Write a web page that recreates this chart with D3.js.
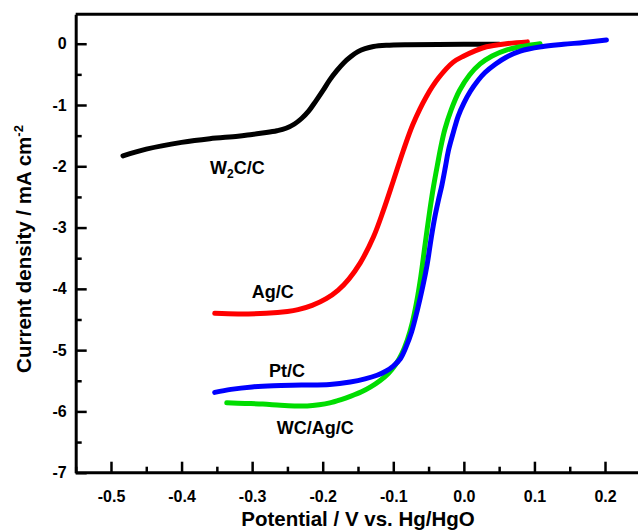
<!DOCTYPE html>
<html>
<head>
<meta charset="utf-8">
<script src="https://cdn.jsdelivr.net/npm/d3@7/dist/d3.min.js"></script>
<style>
  html, body { margin: 0; padding: 0; background: #fff; }
  svg { display: block; }
  text { font-family: "Liberation Sans", Arial, Helvetica, sans-serif; font-weight: bold; }
</style>
</head>
<body>
<script>
// ---- data (potential V vs. Hg/HgO, current density mA cm^-2) ----
const w2cPotential = [-0.483,-0.45,-0.40,-0.36,-0.32,-0.30,-0.28,-0.265,-0.252,-0.24,-0.23,-0.22,-0.21,-0.2,-0.19,-0.18,-0.17,-0.16,-0.15,-0.14,-0.128,-0.11,-0.08,0.0,0.05];
const w2cCurrent   = [-1.83,-1.72,-1.61,-1.55,-1.51,-1.48,-1.45,-1.42,-1.38,-1.31,-1.22,-1.10,-0.94,-0.77,-0.59,-0.44,-0.31,-0.21,-0.13,-0.08,-0.045,-0.025,-0.015,-0.01,-0.01];

const agPotential = [-0.353,-0.32,-0.28,-0.25,-0.235,-0.215,-0.195,-0.178,-0.163,-0.147,-0.128,-0.114,-0.10,-0.086,-0.072,-0.053,-0.036,-0.015,0.0,0.015,0.032,0.06,0.09];
const agCurrent   = [-4.40,-4.41,-4.40,-4.37,-4.34,-4.27,-4.16,-4.02,-3.84,-3.58,-3.15,-2.72,-2.24,-1.75,-1.31,-0.86,-0.56,-0.30,-0.20,-0.12,-0.05,0.0,0.03];

const wcagPotential = [-0.336,-0.31,-0.285,-0.26,-0.24,-0.222,-0.205,-0.19,-0.175,-0.16,-0.145,-0.132,-0.119,-0.107,-0.097,-0.088,-0.08,-0.073,-0.067,-0.061,-0.055,-0.048,-0.043,-0.037,-0.032,-0.027,-0.018,-0.006,0.008,0.023,0.04,0.061,0.085,0.108];
const wcagCurrent   = [-5.86,-5.87,-5.88,-5.90,-5.91,-5.91,-5.89,-5.86,-5.81,-5.75,-5.68,-5.60,-5.50,-5.38,-5.24,-5.06,-4.83,-4.55,-4.22,-3.80,-3.28,-2.70,-2.33,-1.95,-1.65,-1.40,-1.08,-0.76,-0.51,-0.33,-0.20,-0.10,-0.04,0.0];

const ptPotential = [-0.353,-0.33,-0.30,-0.27,-0.23,-0.19,-0.161,-0.14,-0.123,-0.11,-0.10,-0.09,-0.082,-0.074,-0.066,-0.058,-0.052,-0.046,-0.041,-0.036,-0.031,-0.026,-0.022,-0.015,-0.008,0.0,0.009,0.02,0.03,0.045,0.06,0.08,0.11,0.141,0.17,0.202];
const ptCurrent   = [-5.69,-5.64,-5.60,-5.58,-5.57,-5.56,-5.52,-5.47,-5.41,-5.34,-5.26,-5.14,-4.95,-4.70,-4.35,-3.95,-3.60,-3.15,-2.82,-2.55,-2.30,-2.00,-1.75,-1.45,-1.18,-0.97,-0.78,-0.60,-0.47,-0.33,-0.22,-0.12,-0.05,-0.01,0.02,0.06];

const seriesNames  = ["W2C/C", "Ag/C", "WC/Ag/C", "Pt/C"];
const seriesColors = ["#000000", "#ff0000", "#00dd00", "#0000ff"];

const xTickValues = [-0.5,-0.4,-0.3,-0.2,-0.1,0.0,0.1,0.2];
const xTickLabels = ["-0.5","-0.4","-0.3","-0.2","-0.1","0.0","0.1","0.2"];
const xMinorTicks = [-0.55,-0.45,-0.35,-0.25,-0.15,-0.05,0.05,0.15];
const yTickValues = [0,-1,-2,-3,-4,-5,-6,-7];
const yTickLabels = ["0","-1","-2","-3","-4","-5","-6","-7"];
const yMinorTicks = [-0.5,-1.5,-2.5,-3.5,-4.5,-5.5,-6.5];

// curve labels, anchored in data units (potential, current)
const labelText = ["W", "Ag/C", "Pt/C", "WC/Ag/C"];
const labelX = [-0.3597, -0.3006, -0.2761, -0.2652];
const labelY = [-2.126, -4.157, -5.438, -6.368];

// ---- drawing ----
const W = 638, H = 530;
const svg = d3.select("body").append("svg").attr("width", W).attr("height", H);

const x = d3.scaleLinear().domain([-0.55, 0.25]).range([75.7, 640.3]);
const y = d3.scaleLinear().domain([-7, 0.48]).range([472.7, 14.3]);

// top border
svg.append("line")
  .attr("x1", x(-0.55)).attr("x2", W)
  .attr("y1", y(0.48)).attr("y2", y(0.48))
  .attr("stroke", "#000").attr("stroke-width", 3);

// curves
const series = [
  {p: w2cPotential, c: w2cCurrent},
  {p: agPotential, c: agCurrent},
  {p: wcagPotential, c: wcagCurrent},
  {p: ptPotential, c: ptCurrent}
];
const line = d3.line().x(d => x(d[0])).y(d => y(d[1])).curve(d3.curveCatmullRom.alpha(0.5));
series.forEach((s, i) => {
  const pts = s.p.map((v, k) => [v, s.c[k]]);
  svg.append("path")
    .datum(pts)
    .attr("d", line)
    .attr("fill", "none")
    .attr("stroke", seriesColors[i])
    .attr("stroke-width", 5)
    .attr("stroke-linejoin", "round")
    .attr("stroke-linecap", "round")
    .attr("class", "series-" + i);
});

// axes
const xAxis = d3.axisBottom(x).tickValues(xTickValues)
  .tickFormat((d, i) => xTickLabels[i]).tickSizeInner(-11).tickSizeOuter(0).tickPadding(17.5);
const xMinor = d3.axisBottom(x).tickValues(xMinorTicks).tickFormat("").tickSizeInner(-6).tickSizeOuter(0);
const yAxis = d3.axisLeft(y).tickValues(yTickValues)
  .tickFormat((d, i) => yTickLabels[i]).tickSizeInner(-11).tickSizeOuter(0).tickPadding(9);
const yMinor = d3.axisLeft(y).tickValues(yMinorTicks).tickFormat("").tickSizeInner(-6).tickSizeOuter(0);

function styleAxis(g) {
  g.select(".domain").attr("stroke", "#000").attr("stroke-width", 3);
  g.selectAll(".tick line").attr("stroke", "#000").attr("stroke-width", 2.5);
  g.selectAll(".tick text").attr("fill", "#000").attr("font-size", 16).attr("font-weight", "bold")
    .attr("font-family", "'Liberation Sans', Arial, sans-serif");
}

const gx = svg.append("g").attr("transform", `translate(0,${y(-7)})`).call(xAxis).call(styleAxis);
gx.select(".domain").attr("d", `M${x(-0.55)},0H${W}`);
const gxm = svg.append("g").attr("transform", `translate(0,${y(-7)})`).call(xMinor).call(styleAxis);
gxm.select(".domain").remove();
svg.append("g").attr("transform", `translate(${x(-0.55)},0)`).call(yAxis).call(styleAxis);
svg.append("g").attr("transform", `translate(${x(-0.55)},0)`).call(yMinor).call(styleAxis)
  .select(".domain").remove();

// axis titles
svg.append("text")
  .attr("x", 358).attr("y", 526)
  .attr("text-anchor", "middle").attr("font-size", 20.5)
  .text("Potential / V vs. Hg/HgO");

const yt = svg.append("text")
  .attr("transform", "translate(31,249) rotate(-90)")
  .attr("text-anchor", "middle").attr("font-size", 20.5);
yt.append("tspan").text("Current density / mA cm");
yt.append("tspan").attr("font-size", 13).attr("dy", -8).text("-2");

// curve labels
labelText.forEach((t, i) => {
  const txt = svg.append("text")
    .attr("x", x(labelX[i])).attr("y", y(labelY[i]))
    .attr("font-size", 18);
  if (i === 0) {
    txt.append("tspan").text("W");
    txt.append("tspan").attr("font-size", 12).attr("dy", 4).text("2");
    txt.append("tspan").attr("dy", -4).text("C/C");
  } else {
    txt.text(t);
  }
});
</script>
</body>
</html>
